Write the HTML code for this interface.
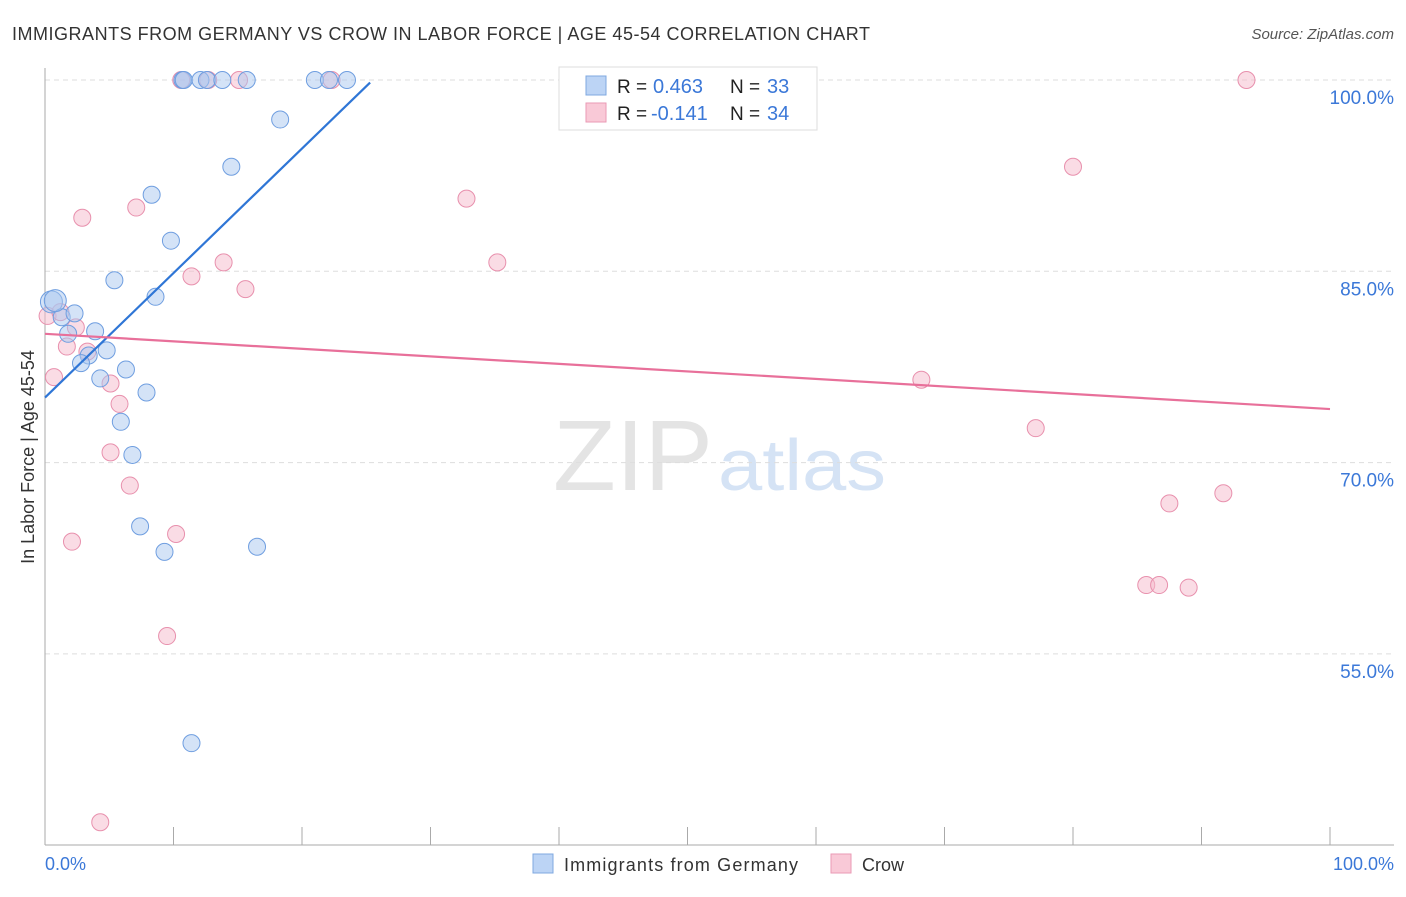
<!DOCTYPE html>
<html><head><meta charset="utf-8"><style>
body{margin:0;background:#fff;font-family:"Liberation Sans",sans-serif;}
svg text{font-family:"Liberation Sans",sans-serif;}
</style></head><body>
<svg id="chart" width="1406" height="892">
<text x="12" y="40" font-size="18" fill="#333" textLength="858" lengthAdjust="spacing">IMMIGRANTS FROM GERMANY VS CROW IN LABOR FORCE | AGE 45-54 CORRELATION CHART</text>
<text x="1394" y="39" font-size="15" fill="#555" text-anchor="end" font-style="italic">Source: ZipAtlas.com</text>
<text x="553" y="490" font-size="100" fill="#e4e4e4" font-family="Liberation Serif" textLength="160" lengthAdjust="spacingAndGlyphs">ZIP</text>
<text x="718" y="490" font-size="72" fill="#d5e3f5" textLength="168" lengthAdjust="spacingAndGlyphs">atlas</text>
<g id="grid"></g>
<g id="axes"></g>
<g id="marks"></g>
<text transform="translate(34,457) rotate(-90)" font-size="18" fill="#333" text-anchor="middle">In Labor Force | Age 45-54</text>
<text x="45" y="870" font-size="18" fill="#3b78d8">0.0%</text>
<text x="1394" y="870" font-size="18" fill="#3b78d8" text-anchor="end">100.0%</text>
<g>
<rect x="559" y="67" width="258" height="63" fill="#fff" stroke="#ddd"/>
<rect x="586" y="76" width="20" height="19" fill="#bcd4f5" stroke="#7fa8e0"/>
<text x="617" y="93" font-size="19" fill="#222">R =</text>
<text x="653" y="93" font-size="20" fill="#3b78d8">0.463</text>
<text x="730" y="93" font-size="19" fill="#222">N =</text>
<text x="767" y="93" font-size="20" fill="#3b78d8">33</text>
<rect x="586" y="103" width="20" height="19" fill="#f9c9d7" stroke="#ea9ab4"/>
<text x="617" y="120" font-size="19" fill="#222">R =</text>
<text x="651" y="120" font-size="20" fill="#3b78d8">-0.141</text>
<text x="730" y="120" font-size="19" fill="#222">N =</text>
<text x="767" y="120" font-size="20" fill="#3b78d8">34</text>
</g>
<g>
<rect x="533" y="854" width="20" height="19" fill="#bcd4f5" stroke="#7fa8e0"/>
<text x="564" y="871" font-size="18" fill="#333" textLength="234">Immigrants from Germany</text>
<rect x="831" y="854" width="20" height="19" fill="#f9c9d7" stroke="#ea9ab4"/>
<text x="862" y="871" font-size="18" fill="#333">Crow</text>
</g>
</svg>
<script>
const yTicks=[100,85,70,55];
const yTickLabels=["100.0%","85.0%","70.0%","55.0%"];
const xTickVals=[0,10,20,30,40,50,60,70,80,90,100];
const blueX=[10.7,10.8,12.1,12.6,13.8,15.7,21.0,22.1,23.5,18.3,14.5,8.3,9.8,5.4,8.6,0.5,1.3,2.3,3.9,1.8,4.8,3.4,2.8,6.3,4.3,7.9,5.9,6.8,7.4,9.3,16.5,11.4,0.8];
const blueY=[100,100,100,100,100,100,100,100,100,96.9,93.2,91.0,87.4,84.3,83.0,82.6,81.4,81.7,80.3,80.1,78.8,78.4,77.8,77.3,76.6,75.5,73.2,70.6,65.0,63.0,63.4,48.0,82.7];
const pinkX=[10.6,12.7,15.1,22.3,93.5,80.0,32.8,2.9,7.1,13.9,35.2,11.4,15.6,0.2,1.2,2.4,1.7,3.3,0.7,5.1,5.8,5.1,6.6,2.1,10.2,9.5,4.3,68.2,77.1,91.7,87.5,85.7,86.7,89.0];
const pinkY=[100,100,100,100,100,93.2,90.7,89.2,90.0,85.7,85.7,84.6,83.6,81.5,81.8,80.6,79.1,78.7,76.7,76.2,74.6,70.8,68.2,63.8,64.4,56.4,41.8,76.5,72.7,67.6,66.8,60.4,60.4,60.2];
const blueTrendX=[0,25.3];
const blueTrendY=[75.1,99.8];
const pinkTrendX=[0,100];
const pinkTrendY=[80.1,74.2];

const X=v=>45+v*12.85;
const Y=v=>80+(100-v)*191.3/15;
const NS="http://www.w3.org/2000/svg";
function mk(tag,attrs,parent){const e=document.createElementNS(NS,tag);for(const k in attrs)e.setAttribute(k,attrs[k]);parent.appendChild(e);return e;}
const grid=document.getElementById('grid'),axes=document.getElementById('axes'),marks=document.getElementById('marks');
yTicks.forEach((t,i)=>{
  const l=mk('line',{x1:45,x2:1394,y1:Y(t),y2:Y(t),stroke:'#ddd','stroke-dasharray':'5,4'},grid);
  
  
  const tx=mk('text',{x:1394,y:Y(t)+24,'font-size':19,fill:'#3b78d8','text-anchor':'end'},grid);
  tx.textContent=yTickLabels[i];
  
  
});
const ya=mk('line',{x1:45,x2:45,y1:68,y2:845,stroke:'#aaa'},axes);


const xa=mk('line',{x1:45,x2:1394,y1:845,y2:845,stroke:'#aaa'},axes);


xTickVals.forEach(v=>{
  const t=mk('line',{x1:X(v),x2:X(v),y1:827,y2:845,stroke:'#aaa'},axes);
  
  
});
function pts(xs,ys,fill,stroke,name){
  xs.forEach((x,i)=>{
    const c=mk('circle',{cx:X(x),cy:Y(ys[i]),r:(x<1.5&&name==='blue-point'&&ys[i]>82)?11:8.5,fill:fill,'fill-opacity':0.5,stroke:stroke,'stroke-width':1},marks);
    
    
  });
}
pts(pinkX,pinkY,'#f5b9cc','#e890ad','pink-point');
pts(blueX,blueY,'#a9c8f0','#6f9ee0','blue-point');
const bl=mk('line',{x1:X(blueTrendX[0]),y1:Y(blueTrendY[0]),x2:X(blueTrendX[1]),y2:Y(blueTrendY[1]),stroke:'#2f76d6','stroke-width':2.2},marks);


const pl=mk('line',{x1:X(pinkTrendX[0]),y1:Y(pinkTrendY[0]),x2:X(pinkTrendX[1]),y2:Y(pinkTrendY[1]),stroke:'#e8709a','stroke-width':2.2},marks);


</script>
</body></html>
